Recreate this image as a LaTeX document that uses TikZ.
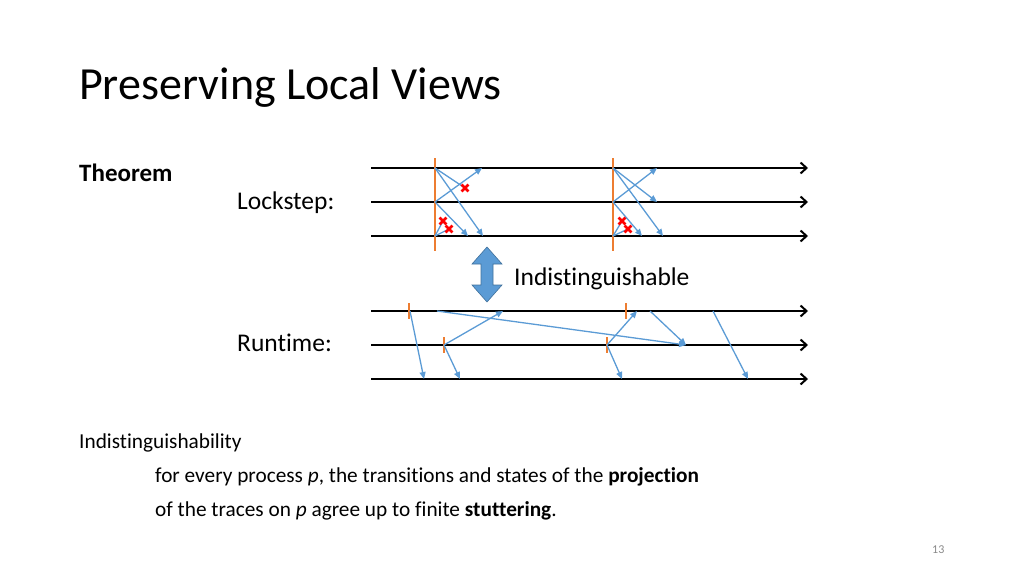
\documentclass[tikz,border=0pt]{standalone}
\usepackage{fontspec}
\setmainfont{Carlito}[Ligatures=NoCommon]
\usepackage{tikz}
\usetikzlibrary{arrows.meta, calc}
\definecolor{msgblue}   {RGB}{91, 155, 213}
\definecolor{rndorange} {RGB}{237, 125, 49}
\definecolor{blkedge}   {RGB}{65, 113, 156}
\definecolor{pagegray}  {RGB}{137, 137, 137}

\begin{document}
\begin{tikzpicture}[x=1pt,y=-1pt,
	proc/.style={line width=2.4pt,-{Straight Barb[length=6pt,width=11pt,line width=2pt]}},
	msg/.style={msgblue,line width=1.3pt,-{Triangle[length=7pt,width=6pt]}},
	lost/.style={msgblue,line width=1.3pt},
	rnd/.style={rndorange,line width=1.4pt},
	txt/.style={anchor=base west,inner sep=0pt}]
	\useasboundingbox (0,0) rectangle (1024,576);
	% texts
	\node[txt,font=\fontsize{46}{46}\selectfont] (title) at (79,99) {Preserving Local Views};
	\node[txt,font=\fontsize{25}{25}\selectfont\bfseries] (thm) at (79,181) {Theorem};
	\node[txt,font=\fontsize{25.5}{25}\selectfont] (lock) at (237,209) {Lockstep:};
	\node[txt,font=\fontsize{25.5}{25}\selectfont] (run) at (237,351) {Runtime:};
	\node[txt,font=\fontsize{25.5}{25}\selectfont] (indist) at (514,285) {Indistinguishable};
	\node[txt,font=\fontsize{21.3}{21}\selectfont] (def) at (79,448) {Indistinguishability};
	\node[txt,font=\fontsize{21.3}{21}\selectfont] (def1) at (155,482) {for every process \textit{p}, the transitions and states of the \textbf{projection}};
	\node[txt,font=\fontsize{21.3}{21}\selectfont] (def2) at (155,516) {of the traces on \textit{p} agree up to finite \textbf{stuttering}.};
	\node[txt,font=\fontsize{12}{12}\selectfont,text=pagegray] (pg) at (932,553) {13};
	% process lines
	\foreach \y [count=\i] in {168,202,236}{
		\coordinate (ls\i) at (371,\y); \coordinate (le\i) at (808,\y);
		\draw[proc] (ls\i) -- (le\i);}
	\foreach \y [count=\i] in {311,345,379}{
		\coordinate (rs\i) at (371,\y); \coordinate (re\i) at (808,\y);
		\draw[proc] (rs\i) -- (re\i);}
	% lockstep rounds
	\foreach \x/\r in {435/a,613/b}{
		\draw[rnd] (\x,158) -- (\x,251);
		\coordinate (\r1) at (\x,168); \coordinate (\r2) at (\x,202); \coordinate (\r3) at (\x,236);}
	\draw[lost] (a1) -- (465,188);
	\draw[msg] (a1) -- (483,236);
	\draw[msg] (a2) -- (482,168);
	\draw[msg] (a2) -- (468,236);
	\draw[lost] (a3) -- (443,221);
	\draw[lost] (a3) -- (449,229);
	\draw[msg] (b1) -- (657,202);
	\draw[msg] (b1) -- (663,236);
	\draw[msg] (b2) -- (657,168);
	\draw[msg] (b2) -- (642,236);
	\draw[lost] (b3) -- (622,221);
	\draw[lost] (b3) -- (628,229);
	% lost messages
	\foreach \px/\py in {465/188,443/221,449/229,622/221,628/229}{
		\draw[red,line width=2.8pt] (\px-3.4,\py-3.4) -- (\px+3.4,\py+3.4) (\px-3.4,\py+3.4) -- (\px+3.4,\py-3.4);}
	% runtime
	\foreach \x/\y in {409/311,444/345,626/311,607/345}{\draw[rnd] (\x,\y-8) -- (\x,\y+8);}
	\draw[msg] (410,311) -- (424,379);
	\draw[msg] (437,311) -- (686,345);
	\draw[msg] (444,345) -- (503,311);
	\draw[msg] (444,345) -- (460,379);
	\draw[msg] (607,345) -- (637,311);
	\draw[msg] (607,345) -- (622,379);
	\draw[msg] (650,311) -- (686,345);
	\draw[msg] (713,311) -- (748,379);
	% block arrow
	\filldraw[fill=msgblue,draw=blkedge,line width=0.6pt] (487,247) -- (502,264) -- (493,264) -- (493,285) -- (502,285)
		-- (487,302) -- (472,285) -- (481,285) -- (481,264) -- (472,264) -- cycle;
\end{tikzpicture}
\end{document}
